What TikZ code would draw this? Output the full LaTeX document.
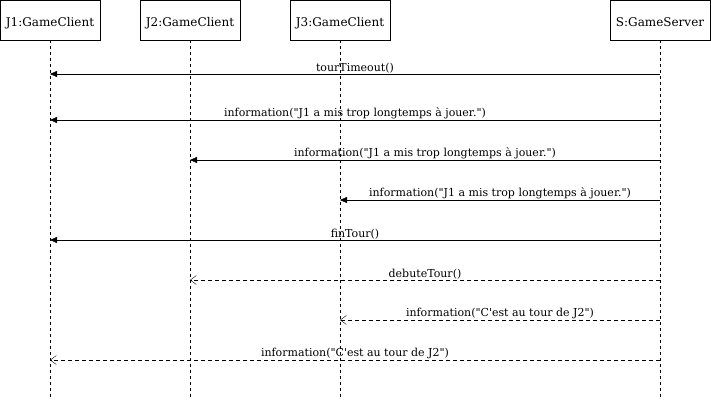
\documentclass[tikz,border=0pt]{standalone}
\usepackage{fontspec}
\setmainfont{DejaVu Serif}[Ligatures=TeXOff]
\usetikzlibrary{
		arrows.meta,
		positioning
	}
\tikzset{
		obj/.style={draw, thick, minimum width=100pt, minimum height=40pt, inner sep=0pt, text height=13pt, text depth=0pt, font=\fontsize{12}{14}\selectfont},
		life/.style={dash pattern=on 3pt off 3pt},
		call/.style={-{Triangle[length=7pt,width=6pt]}},
		reply/.style={dash pattern=on 4pt off 3pt, -{Straight Barb[length=6pt,width=9pt]}},
		lbl/.style={font=\fontsize{11}{13}\selectfont, inner sep=1pt, above}
	}

\begin{document}
\begin{tikzpicture}[x=1pt,y=1pt]
          \useasboundingbox (0,0) rectangle (711,-401);

          \node[obj] (j1) at (50,-20) {J1:GameClient};
          \node[obj] (j2) at (190,-20) {J2:GameClient};
          \node[obj] (j3) at (340,-20) {J3:GameClient};
          \node[obj] (sv) at (660,-20) {S:GameServer};

          \foreach \n in {j1,j2,j3,sv}
            \draw[life] (\n.south) -- (\n |- 0,-398);

          \draw[call] (sv |- 0,-74) -- (j1 |- 0,-74) node[midway, lbl]{tourTimeout()};
          \draw[call] (sv |- 0,-120) -- (j1 |- 0,-120) node[midway, lbl]{information("J1 a mis trop longtemps à jouer.")};
          \draw[call] (sv |- 0,-160) -- (j2 |- 0,-160) node[midway, lbl]{information("J1 a mis trop longtemps à jouer.")};
          \draw[call] (sv |- 0,-200) -- (j3 |- 0,-200) node[midway, lbl]{information("J1 a mis trop longtemps à jouer.")};
          \draw[call] (sv |- 0,-240) -- (j1 |- 0,-240) node[midway, lbl]{finTour()};

          \draw[reply] (sv |- 0,-280) -- (j2 |- 0,-280) node[midway, lbl]{debuteTour()};
          \draw[reply] (sv |- 0,-320) -- (j3 |- 0,-320) node[midway, lbl]{information("C'est au tour de J2")};
          \draw[reply] (sv |- 0,-360) -- (j1 |- 0,-360) node[midway, lbl]{information("C'est au tour de J2")};

\end{tikzpicture}
\end{document}
